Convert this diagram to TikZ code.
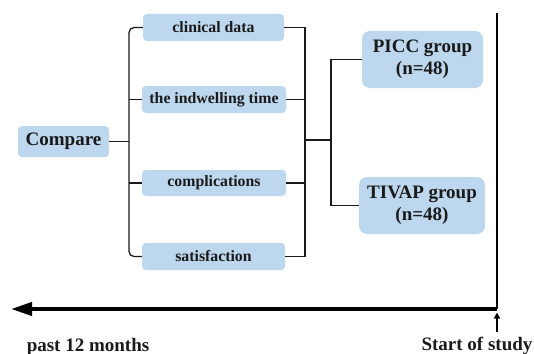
\documentclass[tikz,border=0pt]{standalone}
\usepackage{fontspec}
\setmainfont{Liberation Serif}
\usetikzlibrary{arrows.meta}
\definecolor{boxblue}{HTML}{BDD7EE}
\definecolor{ink}{HTML}{1A1A1A}
\tikzset{
  item/.style={fill=boxblue, rounded corners=4pt, inner sep=0pt, text=ink,
    font=\fontsize{15.8}{18}\selectfont\bfseries, align=center},
  group/.style={fill=boxblue, rounded corners=8pt, inner sep=0pt, text=ink,
    font=\fontsize{19}{22}\selectfont\bfseries, align=center},
  link/.style={draw=ink, line width=1.3pt},
  axislabel/.style={anchor=base, inner sep=0pt, text=ink,
    font=\fontsize{19}{22}\selectfont\bfseries}
}
\begin{document}
\begin{tikzpicture}[x=1pt,y=-1pt]
\useasboundingbox (0,0) rectangle (534,353);

% comparison items
\node[item, minimum width=91pt, minimum height=31pt, font=\fontsize{19}{22}\selectfont\bfseries] (cmp) at (63.5,141.5) {Compare};
\node[item, minimum width=141pt, minimum height=27pt] (c1) at (213.5,27.5) {clinical data};
\node[item, minimum width=144pt, minimum height=27pt] (c2) at (214,99.5) {the indwelling time};
\node[item, minimum width=144pt, minimum height=26pt] (c3) at (214,183) {complications};
\node[item, minimum width=143pt, minimum height=27pt] (c4) at (213.5,256.5) {satisfaction};

% study groups
\node[group, minimum width=121pt, minimum height=57pt] (picc) at (422.5,59.5) {PICC group\\(n=48)};
\node[group, minimum width=126pt, minimum height=57pt] (tivap) at (422,205.5) {TIVAP group\\(n=48)};

% left bracket
\coordinate (lb) at (129,141.5);
\draw[link, rounded corners=5pt] (c1.west) -| (lb) |- (c4.west);
\draw[link] (c2.west) -- (c2.west -| lb);
\draw[link, rounded corners=5pt] (c3.west) -- (c3.west -| lb);
\draw[link] (cmp.east) -- (lb);

% right bracket
\coordinate (rb) at (305,140);
\coordinate (rj) at (331,140);
\draw[link] (c1.east) -| (rb) |- (c4.east);
\draw[link] (c2.east) -- (c2.east -| rb);
\draw[link] (c3.east) -- (c3.east -| rb);
\draw[link] (rb) -- (rj);
\draw[link] (picc.west) -| (rj) |- (tivap.west);

% time axis
\coordinate (top) at (497,13);
\coordinate (now) at (497,309);
\coordinate (past) at (11,309);
\draw[draw=black, line width=1.5pt] (top) -- (now);
\draw[draw=black, line width=4pt, -{Triangle[length=21pt,width=13pt]}] (now) -- (past);

% study start marker
\coordinate (mk0) at (497,332);
\coordinate (mk1) at (497,312.5);
\draw[draw=black, line width=1.5pt, -{Triangle[length=6pt,width=6pt]}] (mk0) -- (mk1);

\node[axislabel] (pastlbl) at (88,351) {past 12 months};
\node[axislabel] (startlbl) at (477,350) {Start of study};
\end{tikzpicture}
\end{document}
